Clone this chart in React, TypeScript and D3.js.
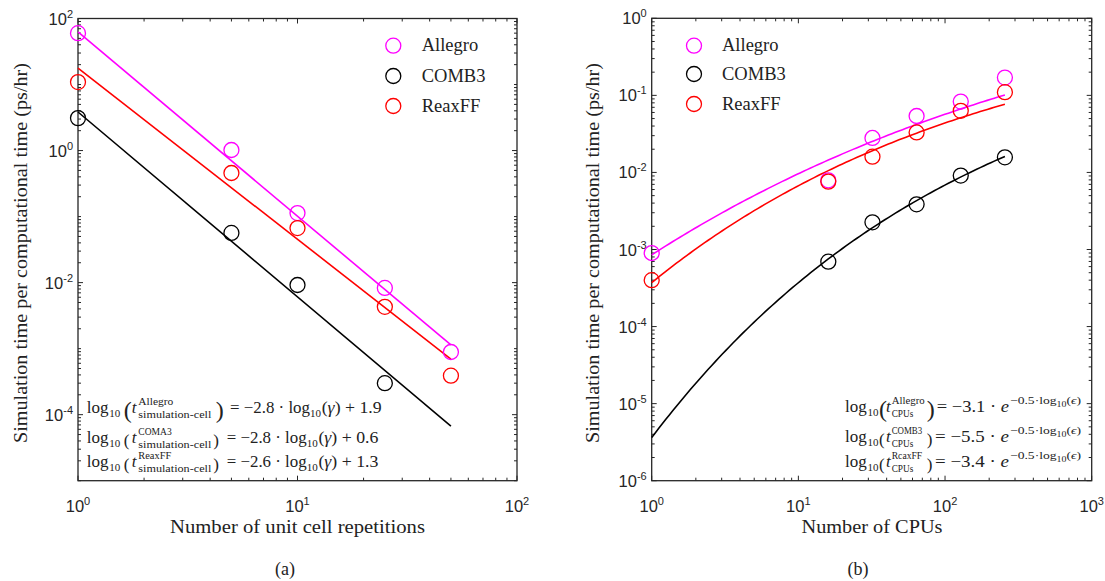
import React from 'react';
import * as d3 from 'd3';

// ---------- data ----------
const seriesNames = ['Allegro', 'COMB3', 'ReaxFF'];
const seriesColors = ['#ff00ff', '#000000', '#ff0000'];

const repetitions = [1, 5, 10, 25, 50];
const allegroRep = [60, 1.02, 0.113, 0.0083, 0.00089];
const comb3Rep = [3.1, 0.0565, 0.0092, 0.0003, null];
const reaxRep = [10.9, 0.457, 0.067, 0.0043, 0.00039];

const cpus = [1, 16, 32, 64, 128, 256];
const allegroCpu = [9e-4, 7.9e-3, 0.028, 0.054, 0.083, 0.17];
const comb3Cpu = [null, 6.95e-4, 2.25e-3, 3.86e-3, 9.1e-3, 0.0157];
const reaxCpu = [4.0e-4, 7.6e-3, 0.016, 0.033, 0.063, 0.11];

// fitted lines (log10 y = slope*log10 x + intercept)
const repFitSlope = [-2.79, -2.8, -2.594];
const repFitIntercept = [1.796, 0.584, 1.25];
const repFitRange = [1, 50];

// fitted curves (log10 y = a*exp(-b*log10 x) + c)
const cpuFitA = [-3.93, -5.44, -3.567];
const cpuFitB = [0.312, 0.461, 0.4346];
const cpuFitC = [0.86, 0, 0.137];
const cpuFitRange = [1, 256];

const leftEqNames = ['Allegro', 'COMA3', 'ReaxFF'];
const leftEqCoef = ['\u22122.8', '\u22122.8', '\u22122.6'];
const leftEqConst = ['1.9', '0.6', '1.3'];
const rightEqNames = ['Allegro', 'COMB3', 'RcaxFF'];
const rightEqCoef = ['\u22123.1', '\u22125.5', '\u22123.4'];

const leftXDecades = [0, 1, 2];
const leftYDecades = [-5, -4, -3, -2, -1, 0, 1, 2];
const leftYLabels = [-4, -2, 0, 2];
const rightXDecades = [0, 1, 2, 3];
const rightYDecades = [-6, -5, -4, -3, -2, -1, 0];
const rightYLabels = [-6, -5, -4, -3, -2, -1, 0];

// ---------- layout ----------
const SERIF = 'Liberation Serif, DejaVu Serif, Times New Roman, Times, serif';
const SANS = 'Liberation Sans, Arial, Helvetica, sans-serif';
const AX = '#262626';
const TXT = '#222';

const L = { x0: 78, x1: 517, y0: 18.5, y1: 480.7 };
const R = { x0: 651.7, x1: 1091.7, y0: 18.3, y1: 480.7 };

const lx = d3.scaleLog().domain([1, 100]).range([L.x0, L.x1]);
const ly = d3.scaleLog().domain([1e-5, 1e2]).range([L.y1, L.y0]);
const rx = d3.scaleLog().domain([1, 1000]).range([R.x0, R.x1]);
const ry = d3.scaleLog().domain([1e-6, 1]).range([R.y1, R.y0]);

function exp(e: number) {
  return e < 0 ? '-' + Math.abs(e) : String(e);
}

function Axes({ box, xs, ys, xDec, yDec, yLab }: any) {
  const els: any[] = [];
  const maj = 5, mnr = 3;
  xDec.forEach((d: number, i: number) => {
    const v = Math.pow(10, d);
    const X = xs(v);
    els.push(<line key={'xm' + d} x1={X} x2={X} y1={box.y1} y2={box.y1 - maj} stroke={AX} />);
    els.push(<line key={'xmt' + d} x1={X} x2={X} y1={box.y0} y2={box.y0 + maj} stroke={AX} />);
    els.push(
      <text key={'xl' + d} x={X} y={box.y1 + 31} textAnchor="middle" fontFamily={SANS} fontSize={16.5} fill={AX}>
        10<tspan dy={-7} fontSize={11}>{exp(d)}</tspan>
      </text>
    );
    if (i < xDec.length - 1) {
      for (let k = 2; k <= 9; k++) {
        const Xm = xs(k * v);
        els.push(<line key={'xn' + d + k} x1={Xm} x2={Xm} y1={box.y1} y2={box.y1 - mnr} stroke={AX} />);
        els.push(<line key={'xnt' + d + k} x1={Xm} x2={Xm} y1={box.y0} y2={box.y0 + mnr} stroke={AX} />);
      }
    }
  });
  yDec.forEach((d: number, i: number) => {
    const v = Math.pow(10, d);
    const Y = ys(v);
    const isMaj = yLab.includes(d);
    const len = isMaj ? maj : mnr;
    els.push(<line key={'ym' + d} x1={box.x0} x2={box.x0 + len} y1={Y} y2={Y} stroke={AX} />);
    els.push(<line key={'ymr' + d} x1={box.x1} x2={box.x1 - len} y1={Y} y2={Y} stroke={AX} />);
    if (isMaj) {
      els.push(
        <text key={'yl' + d} x={box.x0 - 5} y={Y + 6} textAnchor="end" fontFamily={SANS} fontSize={16.5} fill={AX}>
          10<tspan dy={-7} fontSize={11}>{exp(d)}</tspan>
        </text>
      );
    }
    if (i < yDec.length - 1) {
      for (let k = 2; k <= 9; k++) {
        const Ym = ys(k * v);
        els.push(<line key={'yn' + d + k} x1={box.x0} x2={box.x0 + mnr} y1={Ym} y2={Ym} stroke={AX} />);
        els.push(<line key={'ynr' + d + k} x1={box.x1} x2={box.x1 - mnr} y1={Ym} y2={Ym} stroke={AX} />);
      }
    }
  });
  return (
    <g strokeWidth={1}>
      {els}
      <rect x={box.x0} y={box.y0} width={box.x1 - box.x0} height={box.y1 - box.y0} fill="none" stroke={AX} strokeWidth={1.3} />
    </g>
  );
}

function Markers({ xsData, ysData, xs, ys, color }: any) {
  return (
    <g>
      {xsData.map((x: number, i: number) =>
        ysData[i] == null ? null : (
          <circle key={i} cx={xs(x)} cy={ys(ysData[i])} r={7.5} fill="none" stroke={color} strokeWidth={1.3} />
        )
      )}
    </g>
  );
}

function Legend({ x, ys, tx, tys }: any) {
  return (
    <g>
      {seriesNames.map((n, i) => (
        <g key={n}>
          <circle cx={x} cy={ys[i]} r={7.5} fill="none" stroke={seriesColors[i]} strokeWidth={1.3} />
          <text x={tx} y={tys[i]} fontFamily={SERIF} fontSize={18.5} fill={TXT}>{n}</text>
        </g>
      ))}
    </g>
  );
}

const leftSupW = [35, 33.4, 33];
const rightSupW = [33, 30.5, 30.5];

function LeftEq({ i, X, B }: any) {
  const big = i === 0;
  const po = 37;
  const pc = big ? 129 : 126.5;
  const rs = big ? 143.3 : 140;
  const ps = big ? 24 : 17;
  const pdy = big ? 5 : 3;
  const f = { fontFamily: SERIF, fill: TXT };
  return (
    <g {...f}>
      <text x={X} y={B} fontSize={17}>log</text>
      <text x={X + 22.5} y={B + 4} fontSize={11}>10</text>
      <text x={X + po} y={B + pdy} fontSize={ps}>(</text>
      <text x={X + 45} y={B} fontSize={17} fontStyle="italic">t</text>
      <text x={X + 51.6} y={B - 8} fontSize={11} textLength={leftSupW[i]} lengthAdjust="spacingAndGlyphs">{leftEqNames[i]}</text>
      <text x={X + 51.6} y={B + 5} fontSize={11} textLength={73} lengthAdjust="spacingAndGlyphs">simulation-cell</text>
      <text x={X + pc} y={B + pdy} fontSize={ps}>)</text>
      <text x={X + rs} y={B} fontSize={17} textLength={80} lengthAdjust="spacingAndGlyphs">= {leftEqCoef[i]} · log</text>
      <text x={X + rs + 80} y={B + 4} fontSize={11}>10</text>
      <text x={X + rs + 91.7} y={B} fontSize={17} textLength={60} lengthAdjust="spacingAndGlyphs">
        (<tspan fontStyle="italic">γ</tspan>) + {leftEqConst[i]}
      </text>
    </g>
  );
}

function RightEq({ i, X, B }: any) {
  const big = i === 0;
  const ps = big ? 24 : 17;
  const pdy = big ? 5 : 3;
  const pc = big ? 81.7 : 81.8;
  const rs = big ? 91.7 : 90;
  const f = { fontFamily: SERIF, fill: TXT };
  return (
    <g {...f}>
      <text x={X} y={B} fontSize={17}>log</text>
      <text x={X + 22.5} y={B + 4} fontSize={11}>10</text>
      <text x={X + 34} y={B + pdy} fontSize={ps}>(</text>
      <text x={X + 41} y={B} fontSize={17} fontStyle="italic">t</text>
      <text x={X + 46.7} y={B - 8} fontSize={10} textLength={rightSupW[i]} lengthAdjust="spacingAndGlyphs">{rightEqNames[i]}</text>
      <text x={X + 46.7} y={B + 5} fontSize={11} textLength={21.6} lengthAdjust="spacingAndGlyphs">CPUs</text>
      <text x={X + pc} y={B + pdy} fontSize={ps}>)</text>
      <text x={X + rs} y={B} fontSize={17} textLength={1009 - X - rs} lengthAdjust="spacingAndGlyphs">
        = {rightEqCoef[i]} · <tspan fontStyle="italic">e</tspan>
      </text>
      <text x={1010} y={B - 8} fontSize={11} textLength={71} lengthAdjust="spacingAndGlyphs">
        −0.5·log<tspan dy={2.5} fontSize={8}>10</tspan>
        <tspan dy={-2.5}>(</tspan><tspan fontStyle="italic">ϵ</tspan>)
      </text>
    </g>
  );
}

export default function App() {
  const lineGen = (xs: any, ys: any) =>
    d3.line<[number, number]>().x((d) => xs(d[0])).y((d) => ys(d[1]));

  const repFits = seriesNames.map((_, i) => {
    const pts: [number, number][] = repFitRange.map((x) => [x, Math.pow(10, repFitSlope[i] * Math.log10(x) + repFitIntercept[i])]);
    return lineGen(lx, ly)(pts);
  });
  const cpuSample = d3.range(0, 101).map((k) => Math.pow(10, (Math.log10(cpuFitRange[1]) * k) / 100));
  const cpuFits = seriesNames.map((_, i) => {
    const pts: [number, number][] = cpuSample.map((x) => [
      x,
      Math.pow(10, cpuFitA[i] * Math.exp(-cpuFitB[i] * Math.log10(x)) + cpuFitC[i]),
    ]);
    return lineGen(rx, ry)(pts);
  });

  const repData = [allegroRep, comb3Rep, reaxRep];
  const cpuData = [allegroCpu, comb3Cpu, reaxCpu];
  const ylabel = 'Simulation time per computational time (ps/hr)';

  return (
    <svg width={1105} height={581} style={{ position: 'absolute', left: 0, top: 0, background: '#fff' }}>
      <rect width={1105} height={581} fill="#fff" />
      {/* ---- left panel ---- */}
      <Axes box={L} xs={lx} ys={ly} xDec={leftXDecades} yDec={leftYDecades} yLab={leftYLabels} />
      <g fill="none" strokeWidth={1.6}>
        {repFits.map((p, i) => (
          <path key={i} d={p as string} stroke={seriesColors[i]} />
        ))}
      </g>
      {repData.map((d, i) => (
        <Markers key={i} xsData={repetitions} ysData={d} xs={lx} ys={ly} color={seriesColors[i]} />
      ))}
      <Legend x={393.3} ys={[45.7, 76, 106]} tx={421.7} tys={[51, 82, 112]} />
      {[413, 443, 467].map((B, i) => (
        <LeftEq key={i} i={i} X={86.7} B={B} />
      ))}
      <text x={297.5} y={533} textAnchor="middle" fontFamily={SERIF} fontSize={18} fill={TXT} textLength={255} lengthAdjust="spacingAndGlyphs">
        Number of unit cell repetitions
      </text>
      <text transform="translate(27,253) rotate(-90)" textAnchor="middle" fontFamily={SERIF} fontSize={18} fill={TXT} textLength={380} lengthAdjust="spacingAndGlyphs">
        {ylabel}
      </text>
      <text x={285} y={575} textAnchor="middle" fontFamily={SERIF} fontSize={18} fill={TXT}>(a)</text>

      {/* ---- right panel ---- */}
      <Axes box={R} xs={rx} ys={ry} xDec={rightXDecades} yDec={rightYDecades} yLab={rightYLabels} />
      <g fill="none" strokeWidth={1.6}>
        {cpuFits.map((p, i) => (
          <path key={i} d={p as string} stroke={seriesColors[i]} />
        ))}
      </g>
      {cpuData.map((d, i) => (
        <Markers key={i} xsData={cpus} ysData={d} xs={rx} ys={ry} color={seriesColors[i]} />
      ))}
      <Legend x={694} ys={[45.7, 74, 104]} tx={722} tys={[51, 80, 110]} />
      {[412, 442, 467].map((B, i) => (
        <RightEq key={i} i={i} X={845} B={B} />
      ))}
      <text x={872} y={533} textAnchor="middle" fontFamily={SERIF} fontSize={18} fill={TXT} textLength={141} lengthAdjust="spacingAndGlyphs">
        Number of CPUs
      </text>
      <text transform="translate(599,253) rotate(-90)" textAnchor="middle" fontFamily={SERIF} fontSize={18} fill={TXT} textLength={380} lengthAdjust="spacingAndGlyphs">
        {ylabel}
      </text>
      <text x={858} y={575} textAnchor="middle" fontFamily={SERIF} fontSize={18} fill={TXT}>(b)</text>
    </svg>
  );
}
